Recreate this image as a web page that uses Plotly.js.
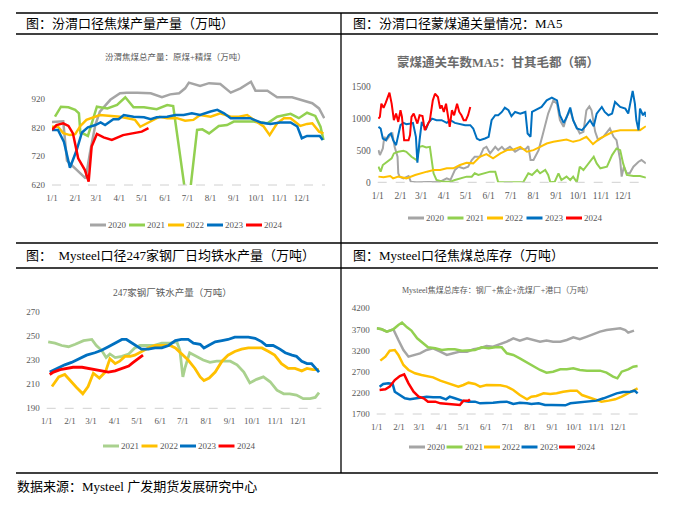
<!DOCTYPE html>
<html><head><meta charset="utf-8">
<script src="https://cdn.plot.ly/plotly-3.0.1.min.js"></script>
<style>html,body{margin:0;padding:0;background:#fff}#chart{width:681px;height:505px}</style>
</head><body><div id="chart"></div>
<script>
// ---------- shared axis labels ----------
const monthDays = [0,31,59,90,120,151,181,212,243,273,304,334];
const monthLabels = ["1/1","2/1","3/1","4/1","5/1","6/1","7/1","8/1","9/1","10/1","11/1","12/1"];
const yearNames = ["2020","2021","2022","2023","2024"];

// ---------- Panel 1: 汾渭焦煤总产量 ----------
const p1Days2020 = [0,15,20,32,45,51,58,64,78,91,100,114,132,147,158,170,178,183,198,210,225,239,252,266,272,288,301,321,334,348,357,364];
const p1Vals2020 = [840,842,705,675,643,736,830,876,917,940,942,942,940,926,936,940,957,977,965,975,972,942,957,980,949,949,926,926,917,905,887,853];
const p1Days2021 = [4,12,22,31,36,38,41,48,60,74,87,98,109,123,140,154,162,180,183,194,201,210,223,234,243,252,270,288,301,319,330,341,352,359,363];
const p1Vals2021 = [858,893,891,882,870,800,800,791,893,887,899,926,891,891,884,899,895,560,560,812,814,800,826,829,841,841,841,835,858,868,853,872,861,823,777];
const p1Days2022 = [0,8,15,24,31,38,46,64,91,111,118,128,144,154,167,178,189,198,212,225,239,250,261,270,283,291,301,310,319,332,341,348,357,363];
const p1Vals2022 = [823,823,801,794,797,826,847,864,858,847,823,836,858,853,853,844,847,864,858,870,858,858,864,847,824,794,835,853,853,826,833,835,806,800];
const p1Days2023 = [0,8,16,24,33,40,48,58,65,71,82,89,96,109,123,132,140,154,165,176,187,198,212,221,230,239,252,265,279,292,305,319,328,334,341,352,358,362];
const p1Vals2023 = [812,812,770,680,742,803,821,829,838,829,849,849,864,858,856,849,856,858,864,864,870,864,876,882,870,853,853,853,838,833,838,838,824,783,791,791,791,777];
const p1Days2024 = [0,6,15,22,28,35,44,49,53,60,69,80,95,109,120,129];
const p1Vals2024 = [812,829,835,826,800,713,672,632,754,798,786,777,794,800,806,818];

// ---------- Panel 2: 蒙煤通关车数MA5 ----------
const p2Days2020 = [1,3,7,9,12,17,20,23,27,28,30,35,42,45,53,76,85,94,99,105,110,117,123,128,132,139,144,148,153,160,164,169,173,180,187,194,201,205,208,212,219,225,232,239,244,248,253,257,262,266,271,275,280,284,288,291,296,300,307,312,316,321,325,330,332,335,339,343,348,355,359,365];
const p2Vals2020 = [505,427,531,714,661,740,766,557,401,141,89,62,99,10,0,0,10,62,36,193,245,219,245,349,401,401,531,557,453,557,505,557,505,557,479,531,516,568,349,349,505,766,1078,1286,1234,974,870,1026,1130,974,870,766,792,1130,1192,1130,792,661,714,792,844,714,661,349,89,245,141,141,245,323,349,297];
const p2Days2021 = [1,4,7,10,15,19,22,28,35,39,46,53,57,61,66,71,76,80,89,99,105,112,121,128,132,137,144,153,160,164,198,205,210,217,221,228,232,235,241,246,250,257,262,266,271,275,280,287,294,298,303,312,319,325,330,334,339,348,357,365];
const p2Vals2021 = [245,167,271,297,349,375,453,479,495,479,401,349,557,568,547,557,141,36,10,10,36,62,89,89,141,115,141,167,167,0,0,141,115,193,141,193,115,0,10,141,36,89,36,89,0,245,193,297,401,297,219,245,427,531,505,297,115,99,99,73];
const p2Days2022 = [1,8,17,21,28,39,51,57,67,76,85,94,103,112,121,130,139,148,157,167,176,185,194,203,212,221,230,239,248,257,266,275,284,293,302,311,320,330,339,348,357,365];
const p2Vals2022 = [89,78,99,62,89,62,115,130,167,193,193,219,219,271,307,297,401,443,375,453,505,516,557,479,505,557,609,635,651,672,635,661,714,599,687,740,792,818,818,818,818,880];
const p2Days2023 = [1,4,7,11,15,18,21,25,28,31,35,39,45,48,52,54,57,60,62,66,69,74,80,87,94,99,105,112,119,126,130,135,139,146,151,155,160,164,169,173,178,182,187,194,201,204,208,210,217,223,230,237,244,248,253,257,262,266,271,278,282,289,294,298,305,309,314,319,323,330,337,341,347,350,352,355,357,361,364,365];
const p2Vals2023 = [870,844,687,661,740,766,661,583,740,896,932,911,922,932,714,307,661,948,896,844,932,1000,974,974,932,974,932,911,896,896,844,687,661,687,714,974,1052,1052,1104,1172,1130,1036,1104,1078,1104,766,714,1104,1141,1182,1286,1328,1286,1052,932,1016,1172,974,844,818,870,974,880,1078,1182,1104,1052,1078,1260,1182,1156,1078,1432,1234,974,818,1156,1052,1104,1026];
const p2Days2024 = [1,3,5,8,11,16,19,22,25,28,31,33,36,42,44,46,49,52,54,57,61,64,68,71,75,78,82,85,87,90,93,96,98,101,104,108,111,114,117,120,123,126];
const p2Vals2024 = [1000,1026,1234,1170,1250,1406,1234,974,1078,948,1130,1026,661,661,740,1026,1078,1000,922,1052,1040,818,922,974,1286,1390,1338,1156,1208,1104,1234,1000,870,1130,1052,1234,1104,1052,974,974,1052,1182];

// ---------- Panel 3: 247家钢厂铁水产量 ----------
const p3Days2021 = [2,11,20,29,38,49,60,66,73,79,84,91,100,109,117,124,133,142,153,164,173,177,181,184,190,199,208,217,226,235,244,253,262,270,279,288,297,306,315,323,332,341,350,357,362];
const p3Vals2021 = [245,244,242,241,243,246,247,242,238,232,235,232,233,235,240,242,242,242,244,244,245,238,216,224,236,233,230,228,229,229,229,226,220,211,214,216,212,205,202,202,201,198,198,199,203];
const p3Days2022 = [7,16,24,31,40,48,55,62,70,78,84,91,97,104,111,117,126,135,144,153,164,171,179,188,197,204,209,216,224,233,241,250,259,268,277,286,295,303,312,321,330,339,346,354,362];
const p3Vals2022 = [208,216,218,213,207,202,208,219,215,220,231,227,229,233,233,234,237,240,242,242,242,240,235,230,223,216,213,215,220,229,234,237,239,240,240,240,237,234,227,223,223,221,223,222,222];
const p3Days2023 = [4,13,24,33,44,53,64,73,82,91,100,106,113,120,126,135,144,153,162,171,179,188,195,204,209,215,224,233,241,250,259,268,277,286,292,301,310,317,326,332,339,346,352,359,362];
const p3Vals2023 = [220,223,226,228,231,234,236,238,241,244,247,247,244,241,239,239,240,240,242,246,247,247,244,243,240,242,245,246,247,249,249,249,248,245,242,242,239,236,234,233,229,227,227,222,220];
const p3Days2024 = [4,9,18,27,35,47,55,64,73,82,91,100,109,115,122,128];
const p3Vals2024 = [218,220,222,223,224,224,223,222,221,220,221,223,225,228,231,234];

// ---------- Panel 4: Mysteel焦煤总库存 ----------
const p4Days2020 = [0,7,14,23,30,37,44,51,60,69,78,88,97,106,115,125,134,143,152,161,171,180,189,198,208,217,226,235,244,254,263,272,281,291,300,309,318,327,337,344,348,356];
const p4Vals2020 = [3727,3703,3648,3703,3451,3214,3056,3088,3135,3214,3254,3175,3096,3135,3175,3175,3230,3254,3309,3293,3356,3411,3490,3435,3490,3451,3411,3435,3411,3411,3451,3514,3467,3530,3593,3648,3687,3703,3727,3687,3624,3672];
const p4Days2021 = [0,7,14,23,30,35,42,48,56,65,71,81,90,99,108,118,127,136,145,155,164,173,180,189,198,208,217,226,235,244,254,263,272,281,291,300,309,318,327,333,339,348,355,361];
const p4Vals2021 = [3727,3703,3648,3703,3806,3861,3750,3672,3490,3356,3277,3254,3214,3230,3230,3198,3198,3214,3277,3254,3277,3277,3135,3096,3017,2914,2820,2741,2678,2701,2757,2757,2780,2741,2725,2725,2725,2678,2583,2544,2701,2757,2820,2836];
const p4Days2022 = [5,12,18,25,30,37,44,53,62,71,78,88,97,106,113,120,127,136,143,152,161,171,180,189,198,208,214,221,231,240,249,258,268,277,284,293,302,311,321,330,339,348,355,361];
const p4Vals2022 = [2962,3056,3198,3214,3096,2859,2741,2662,2623,2583,2567,2489,2441,2386,2347,2386,2441,2410,2347,2386,2386,2378,2347,2268,2149,2047,2110,2126,2189,2173,2189,2228,2252,2252,2149,2094,2031,1992,2016,2047,2110,2189,2252,2307];
const p4Days2023 = [4,9,16,22,25,32,39,46,53,60,69,78,88,96,101,108,118,127,136,143,152,161,171,180,189,198,208,214,224,233,242,251,261,268,277,286,295,304,314,323,332,341,351,357,361];
const p4Vals2023 = [2347,2410,2425,2410,2228,2149,2071,2047,2071,2094,2110,2094,2094,2047,2110,2071,2016,1992,1992,1952,1952,1968,1984,1992,1937,1968,1952,1937,1952,1913,1913,1905,1905,1952,1968,1992,1992,2016,2071,2126,2189,2220,2228,2252,2189];
const p4Days2024 = [4,12,18,25,32,38,44,51,58,65,71,81,88,97,108,115,120,127,129];
const p4Vals2024 = [2268,2284,2347,2504,2599,2638,2425,2228,2110,2071,1992,1992,1952,1937,1913,1913,2016,2016,2047];

// ---------- styling ----------
const colors = {"2020":"#A5A5A5","2021":"#92D050","2022":"#FFC000","2023":"#0070C0","2024":"#FF0000"};
const W = 681, H = 505;
const px = v => v / W;
const py = v => 1 - v / H;
const serif = "Liberation Serif, Noto Sans CJK SC, serif";
const cjk = "Liberation Serif, Noto Sans CJK SC, sans-serif";
const tickGray = "#595959";

const traces = [];
function addSeries(n, name, days, vals, width, color) {
  traces.push({
    type: "scatter", mode: "lines", name: name,
    x: days, y: vals,
    xaxis: n === 1 ? "x" : "x" + n, yaxis: n === 1 ? "y" : "y" + n,
    line: {color: color || colors[name], width: width, shape: "linear"},
    showlegend: false, hoverinfo: "skip"
  });
}
addSeries(1, "2020", p1Days2020, p1Vals2020, 2.5);
addSeries(1, "2021", p1Days2021, p1Vals2021, 2.5);
addSeries(1, "2022", p1Days2022, p1Vals2022, 2.5);
addSeries(1, "2023", p1Days2023, p1Vals2023, 2.5);
addSeries(1, "2024", p1Days2024, p1Vals2024, 2.5);

addSeries(2, "2020", p2Days2020, p2Vals2020, 2);
addSeries(2, "2021", p2Days2021, p2Vals2021, 2);
addSeries(2, "2022", p2Days2022, p2Vals2022, 2);
addSeries(2, "2023", p2Days2023, p2Vals2023, 2);
addSeries(2, "2024", p2Days2024, p2Vals2024, 2);

addSeries(3, "2021", p3Days2021, p3Vals2021, 2.8, "#A9D18E");
addSeries(3, "2022", p3Days2022, p3Vals2022, 2.8);
addSeries(3, "2023", p3Days2023, p3Vals2023, 2.8);
addSeries(3, "2024", p3Days2024, p3Vals2024, 2.8);

addSeries(4, "2020", p4Days2020, p4Vals2020, 2.5);
addSeries(4, "2021", p4Days2021, p4Vals2021, 2.5);
addSeries(4, "2022", p4Days2022, p4Vals2022, 2.5);
addSeries(4, "2023", p4Days2023, p4Vals2023, 2.5);
addSeries(4, "2024", p4Days2024, p4Vals2024, 2.5);

const layout = {
  width: W, height: H, margin: {l:0, r:0, t:0, b:0},
  paper_bgcolor: "#ffffff", plot_bgcolor: "rgba(0,0,0,0)",
  showlegend: false, shapes: [], annotations: []
};

function setAxes(n, xl, xr, yb, yt, yrange, ytickvals, fs) {
  const xs = n === 1 ? "" : String(n);
  layout["xaxis" + xs] = {
    domain: [px(xl), px(xr)], range: [0, 365], anchor: "y" + xs,
    tickmode: "array", tickvals: monthDays, ticktext: monthLabels,
    showgrid: false, zeroline: false, showline: false, ticks: "",
    ticklabelstandoff: 6, tickfont: {family: serif, size: fs, color: tickGray}, fixedrange: true
  };
  layout["yaxis" + xs] = {
    domain: [py(yb), py(yt)], range: yrange, anchor: "x" + xs,
    tickmode: "array", tickvals: ytickvals,
    showgrid: false, zeroline: false, showline: false, ticks: "",
    ticklabelstandoff: 6, tickfont: {family: serif, size: fs, color: tickGray}, fixedrange: true
  };
  layout.shapes.push({type: "line", xref: "x" + xs + " domain", yref: "y" + xs + " domain",
    x0: 0, x1: 1, y0: 0, y1: 0, line: {color: "#D0D0D0", width: 1, dash: "dash"}});
}
setAxes(1, 52, 325, 185, 76, [620, 1000], [620, 720, 820, 920], 9);
setAxes(2, 377.7, 645.9, 182.3, 86.7, [0, 1500], [0, 500, 1000, 1500], 9.5);
setAxes(3, 46.7, 321.3, 408.3, 311.7, [190, 270], [190, 210, 230, 250, 270], 9);
setAxes(4, 376.7, 640.5, 414, 308.3, [1700, 4200], [1700, 2200, 2700, 3200, 3700, 4200], 9);

// frame lines of the report table
const frame = [[16,13,658,13],[16,34,658,34],[16,243,658,243],[16,268,658,268],[16,473,658,473],[341,13,341,473]];
frame.forEach(f => layout.shapes.push({type:"line", xref:"paper", yref:"paper",
  x0: px(f[0]), y0: py(f[1]), x1: px(f[2]), y1: py(f[3]), line: {color: "#000", width: 1.3}}));

function text(x, y, t, size, opts) {
  layout.annotations.push(Object.assign({xref:"paper", yref:"paper", x: px(x), y: py(y), text: t,
    showarrow: false, xanchor: "left", yanchor: "middle",
    font: {family: cjk, size: size, color: "#000"}}, opts || {}));
}
// headers
text(24, 23.5, "图：汾渭口径焦煤产量产量（万吨）", 13);
text(351, 23.5, "图：汾渭口径蒙煤通关量情况：MA5", 13);
text(24, 255.5, "图：\u00a0\u00a0Mysteel口径247家钢厂日均铁水产量（万吨）", 13);
text(351, 255.5, "图：Mysteel口径焦煤总库存（万吨）", 13);
text(15, 486, "数据来源：Mysteel 广发期货发展研究中心", 13);
// chart titles
text(175, 57, "汾渭焦煤总产量：原煤+精煤（万吨）", 8.5, {xanchor:"center", font:{family:cjk, size:8.5, color:"#595959"}});
text(498, 62, "<b>蒙煤通关车数MA5：甘其毛都（辆）</b>", 12.5, {xanchor:"center", font:{family:cjk, size:12.5, color:"#6b6b6b"}});
text(173, 292, "247家钢厂铁水产量（万吨）", 9.5, {xanchor:"center", font:{family:cjk, size:9.5, color:"#595959"}});
text(497, 290, "Mysteel焦煤总库存：钢厂+焦企+洗煤厂+港口（万吨）", 8, {xanchor:"center", font:{family:cjk, size:8, color:"#595959"}});

// legends
function legend(names, x0, y, step, greenColor) {
  names.forEach((nm, i) => {
    const c = (nm === "2021" && greenColor) ? greenColor : colors[nm];
    const x = x0 + i * step;
    layout.shapes.push({type:"line", xref:"paper", yref:"paper", x0: px(x), x1: px(x + 16),
      y0: py(y), y1: py(y), line: {color: c, width: 3}});
    text(x + 17, y, nm, 9, {font: {family: serif, size: 9, color: tickGray}, borderpad: 0});
  });
}
legend(yearNames, 90, 225, 39);
legend(yearNames, 408, 218, 39.5);
legend(yearNames.slice(1), 103, 446, 38.5, "#A9D18E");
legend(yearNames, 409, 447, 37.5);

Plotly.newPlot("chart", traces, layout, {staticPlot: true, displayModeBar: false});
</script></body></html>
